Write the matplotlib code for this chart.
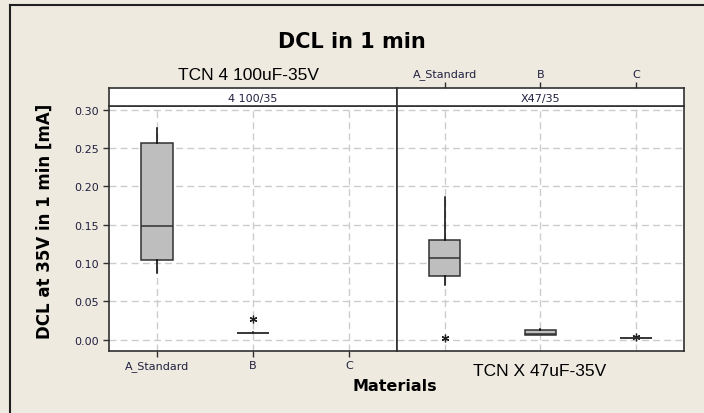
import matplotlib
matplotlib.use("agg")
import matplotlib.pyplot as plt
from matplotlib.lines import Line2D

materials = ["A_Standard", "B", "C"]

# left panel: 4 100/35   (C has no data)
left_pos = [1, 2]
left_whislo = [0.087, 0.0085]
left_q1 = [0.104, 0.0085]
left_med = [0.149, 0.0085]
left_q3 = [0.257, 0.0085]
left_whishi = [0.276, 0.0100]
left_fliers = [[], [0.027]]

# right panel: X47/35
right_pos = [1, 2, 3]
right_whislo = [0.071, 0.0063, 0.002]
right_q1 = [0.083, 0.0063, 0.002]
right_med = [0.107, 0.0066, 0.002]
right_q3 = [0.130, 0.0124, 0.002]
right_whishi = [0.186, 0.0137, 0.002]
right_fliers = [[0.0016], [], [0.0035]]

yticks = [0.00, 0.05, 0.10, 0.15, 0.20, 0.25, 0.30]

bg = "#EEEAE0"
W, H = 704, 414
fig = plt.figure(figsize=(W / 100, H / 100), dpi=100, facecolor=bg)

# outer frame (top and left edges only)
fig.add_artist(Line2D([10 / W, 1], [1 - 6 / H, 1 - 6 / H], color="#202020", lw=1.5))
fig.add_artist(Line2D([10 / W, 10 / W], [1 - 6 / H, 0], color="#202020", lw=1.5))


def fx(px):
    return px / W


def fy(py):
    return 1 - py / H


x0, xm, x1 = 109, 396.7, 684
ytop, ystrip, ybot = 89.3, 106.7, 351.7

ax1 = fig.add_axes([fx(x0), fy(ybot), fx(xm) - fx(x0), fy(ystrip) - fy(ybot)])
ax2 = fig.add_axes([fx(xm), fy(ybot), fx(x1) - fx(xm), fy(ystrip) - fy(ybot)])
s1 = fig.add_axes([fx(x0), fy(ystrip), fx(xm) - fx(x0), fy(ytop) - fy(ystrip)])
s2 = fig.add_axes([fx(xm), fy(ystrip), fx(x1) - fx(xm), fy(ytop) - fy(ystrip)])

tick_col = "#202040"
flierprops = dict(marker=(6, 2, 0), markersize=5.5, markeredgecolor="#202020", markeredgewidth=0.9, linestyle="none")
boxprops = dict(facecolor="#BEBEBE", edgecolor="#303030", linewidth=1.1)
lineprops = dict(color="#303030", linewidth=1.1)


def stats(whislo, q1, med, q3, whishi, fliers):
    out = []
    for i in range(len(med)):
        out.append(dict(whislo=whislo[i], q1=q1[i], med=med[i], q3=q3[i], whishi=whishi[i], fliers=fliers[i]))
    return out


for ax, pos, st in [
    (ax1, left_pos, stats(left_whislo, left_q1, left_med, left_q3, left_whishi, left_fliers)),
    (ax2, right_pos, stats(right_whislo, right_q1, right_med, right_q3, right_whishi, right_fliers)),
]:
    ax.set_facecolor("white")
    ax.bxp(st, positions=pos, widths=0.33, patch_artist=True, showcaps=False,
           boxprops=boxprops, medianprops=lineprops, whiskerprops=dict(color="black", linewidth=1.1),
           flierprops=flierprops, manage_ticks=False)
    ax.set_xlim(0.5, 3.5)
    ax.set_ylim(-0.0146, 0.3056)
    ax.set_yticks(yticks)
    ax.set_xticks([1, 2, 3])
    ax.grid(True, color="#CCCCCC", linestyle=(0, (5, 3)), linewidth=1)
    ax.set_axisbelow(True)
    for sp in ax.spines.values():
        sp.set_color("#303030")
        sp.set_linewidth(1.2)

ax1.set_yticklabels(["%.2f" % v for v in yticks], fontsize=8, color=tick_col)
ax1.set_xticklabels(materials, fontsize=8, color=tick_col)
ax1.tick_params(axis="both", length=4, width=1, color="#303030", pad=3)
ax2.tick_params(axis="both", length=0, labelleft=False, labelbottom=False)

for s, lab in [(s1, "4 100/35"), (s2, "X47/35")]:
    s.set_facecolor("white")
    s.set_xlim(0.5, 3.5)
    s.set_yticks([])
    s.set_xticks([])
    for sp in s.spines.values():
        sp.set_color("#303030")
        sp.set_linewidth(1.2)
    s.text(0.5, 0.45, lab, transform=s.transAxes, ha="center", va="center", fontsize=8, color=tick_col)

s2.set_xticks([1, 2, 3])
s2.set_xticklabels(materials, fontsize=8, color=tick_col)
s2.tick_params(axis="x", top=True, labeltop=True, bottom=False, labelbottom=False,
               length=4, width=1, color="#303030", pad=3)

fig.text(fx(352), fy(42), "DCL in 1 min", ha="center", va="center", fontsize=15, fontweight="bold")
fig.text(fx(248), fy(75), "TCN 4 100uF-35V", ha="center", va="center", fontsize=12.5,
         family="Liberation Sans")
fig.text(fx(540), fy(372), "TCN X 47uF-35V", ha="center", va="center", fontsize=12.5,
         family="Liberation Sans")
fig.text(fx(395), fy(387), "Materials", ha="center", va="center", fontsize=11.5, fontweight="bold")
fig.text(fx(45), fy(221), "DCL at 35V in 1 min [mA]", ha="center", va="center", rotation=90,
         fontsize=12, fontweight="bold")

plt.savefig("out.png", dpi=100, facecolor=bg)
